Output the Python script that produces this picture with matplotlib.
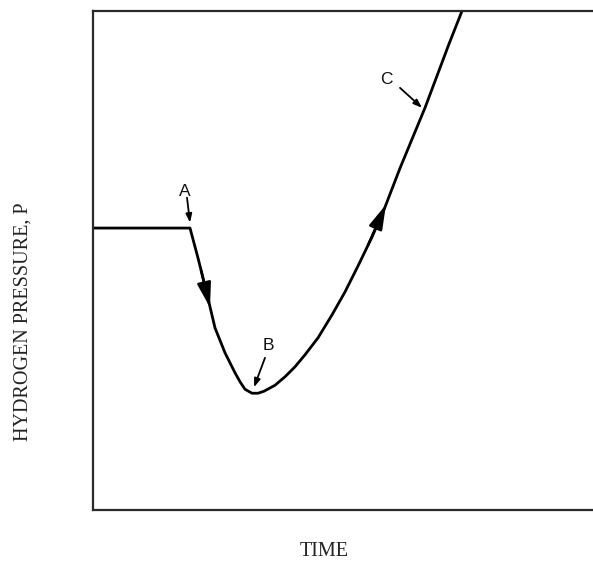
import matplotlib
matplotlib.use("Agg")
import matplotlib.pyplot as plt

# Curve (arbitrary units, 0-100 on both axes)
time = [0.0, 19.4, 21.0, 22.6, 24.4, 26.4, 28.4, 29.4, 30.4, 31.8, 33.0, 34.2,
        36.4, 38.4, 40.4, 42.4, 45.0, 47.8, 50.4, 53.0, 55.8, 58.4, 61.4,
        66.4, 71.2, 73.8]
pressure = [56.5, 56.5, 50.5, 44.1, 36.5, 31.5, 27.5, 25.7, 24.2, 23.4, 23.4, 23.8,
            25.0, 26.7, 28.7, 31.1, 34.5, 39.1, 43.7, 48.9, 54.7, 60.7, 68.5,
            80.6, 93.4, 100.0]

# Point labels: text position, arrow start, arrow tip
labels = ["A", "B", "C"]
label_xy = [(18.4, 63.9), (35.0, 32.9), (58.6, 86.2)]
label_arrow_from = [(18.8, 62.6), (34.4, 30.5), (61.4, 84.6)]
label_arrow_to = [(19.4, 57.6), (32.2, 24.6), (65.8, 80.6)]

# Direction arrows on the curve: (tail, tip)
dir_tail = [(21.6, 48.1), (55.0, 53.1)]
dir_tip = [(23.4, 40.6), (58.6, 61.2)]

fig = plt.figure(figsize=(5.93, 5.63), dpi=100)
ax = fig.add_axes([93 / 593, 53 / 563, 510 / 593, 499 / 563])
ax.set_xlim(0, 102)
ax.set_ylim(0, 100)
ax.set_xticks([])
ax.set_yticks([])
for side in ["left", "top", "bottom"]:
    ax.spines[side].set_color("#2a2a2a")
    ax.spines[side].set_linewidth(1.6)
ax.spines["right"].set_visible(False)

ax.plot(time, pressure, color="black", lw=2.0, solid_joinstyle="round",
        solid_capstyle="butt")

for t, tip in zip(dir_tail, dir_tip):
    ax.annotate("", xy=tip, xytext=t,
                arrowprops=dict(arrowstyle="-|>,head_length=1.5,head_width=0.42",
                                color="black", lw=1.8, shrinkA=0, shrinkB=0))

for lab, xy, a0, a1 in zip(labels, label_xy, label_arrow_from, label_arrow_to):
    ax.text(xy[0], xy[1], lab, ha="center", va="center", fontsize=12.5,
            family="Liberation Sans", color="#111111")
    ax.annotate("", xy=a1, xytext=a0,
                arrowprops=dict(arrowstyle="-|>,head_length=0.5,head_width=0.18",
                                color="black", lw=1.3, shrinkA=0, shrinkB=0))

fig.text(23 / 593, 1 - 322 / 563, "HYDROGEN PRESSURE, P", rotation=90,
         ha="center", va="center", fontsize=14.5, family="Liberation Serif",
         color="#222222")
fig.text(324 / 593, 1 - 551 / 563, "TIME", ha="center", va="center",
         fontsize=14.5, family="Liberation Serif", color="#222222")

fig.savefig("out.png", dpi=100)
